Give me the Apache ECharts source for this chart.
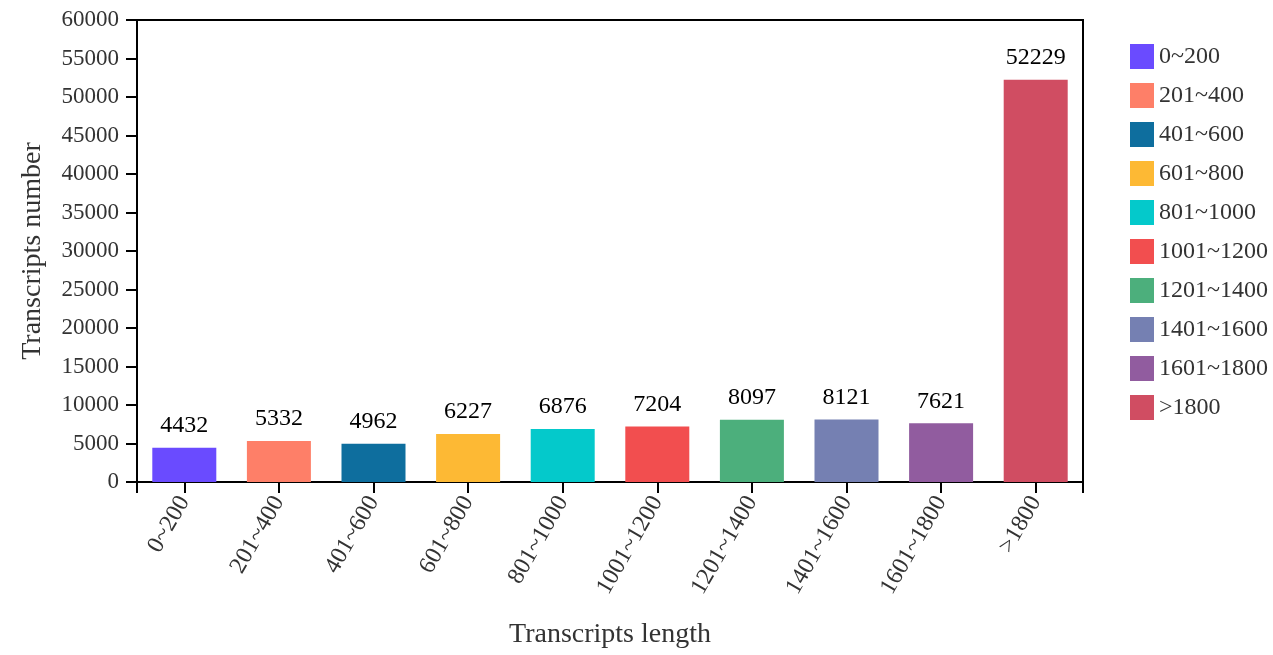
<!DOCTYPE html>
<html>
<head>
<meta charset="utf-8">
<script src="https://cdn.jsdelivr.net/npm/echarts@6/dist/echarts.min.js"></script>
<style>
html,body{margin:0;padding:0;background:#fff;}
#main{width:1273px;height:655px;}
</style>
</head>
<body>
<div id="main"></div>
<script>
const categories = ['0~200','201~400','401~600','601~800','801~1000','1001~1200','1201~1400','1401~1600','1601~1800','>1800'];
const values = [4432, 5332, 4962, 6227, 6876, 7204, 8097, 8121, 7621, 52229];
const colors = ['#6a4bff','#fe7f68','#0e6e9e','#fdb934','#04c9cb','#f24e4f','#4caf7c','#7580b2','#915c9f','#d04d62'];
const yTicks = {min: 0, max: 60000, interval: 5000};

const FONT = '"Liberation Serif", "Times New Roman", serif';
const chart = echarts.init(document.getElementById('main'), null, {renderer: 'canvas'});

const series = categories.map((name, i) => ({
  name: name,
  type: 'bar',
  stack: 'all',
  barWidth: 64,
  itemStyle: {color: colors[i]},
  label: {
    show: true,
    position: 'top',
    distance: 10,
    color: '#000',
    fontFamily: FONT,
    fontSize: 24
  },
  data: categories.map((c, j) => (j === i ? values[i] : null))
}));

chart.setOption({
  backgroundColor: '#fff',
  animation: false,
  textStyle: {fontFamily: FONT},
  grid: {
    left: 137, right: 190, top: 20, bottom: 173,
    show: true, borderColor: '#000', borderWidth: 2, backgroundColor: 'transparent'
  },
  legend: {
    orient: 'vertical',
    left: 1125,
    top: 39,
    itemWidth: 24,
    itemHeight: 25,
    itemGap: 14,
    icon: 'rect',
    data: categories,
    textStyle: {fontFamily: FONT, fontSize: 24, color: '#333'}
  },
  xAxis: [{
    type: 'category',
    data: categories,
    name: 'Transcripts length',
    nameLocation: 'middle',
    nameGap: 139,
    nameTextStyle: {fontFamily: FONT, fontSize: 28, color: '#333'},
    axisLine: {show: true, lineStyle: {color: '#000', width: 2}},
    axisTick: {show: true, alignWithLabel: true, interval: 0, length: 11, lineStyle: {color: '#000', width: 2}},
    axisLabel: {show: true, interval: 0, rotate: 60, margin: 16, fontFamily: FONT, fontSize: 24, color: '#333'}
  }, {
    type: 'value',
    position: 'bottom',
    min: 0, max: 1, interval: 1,
    axisLine: {show: false},
    axisTick: {show: true, length: 11, lineStyle: {color: '#000', width: 2}},
    axisLabel: {show: false},
    splitLine: {show: false}
  }],
  yAxis: {
    type: 'value',
    min: yTicks.min, max: yTicks.max, interval: yTicks.interval,
    name: 'Transcripts number',
    nameLocation: 'middle',
    nameGap: 90,
    nameTextStyle: {fontFamily: FONT, fontSize: 28, color: '#333'},
    axisLine: {show: true, lineStyle: {color: '#000', width: 2}},
    axisTick: {show: true, length: 11, lineStyle: {color: '#000', width: 2}},
    axisLabel: {margin: 18, fontFamily: FONT, fontSize: 23, color: '#333', formatter: v => String(v)},
    splitLine: {show: false}
  },
  series: series
});
</script>
</body>
</html>
